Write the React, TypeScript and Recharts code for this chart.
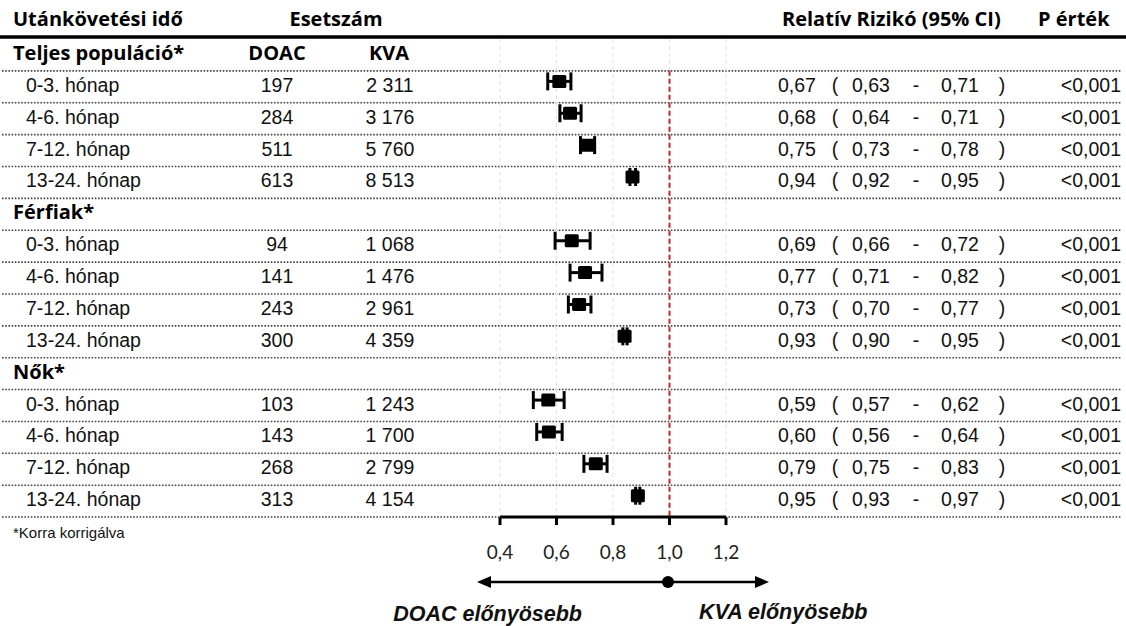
import { ComposedChart, Scatter, ErrorBar, XAxis, YAxis, CartesianGrid, ReferenceLine } from 'recharts';

const groups = ['Teljes populáció*', 'Férfiak*', 'Nők*'];
const periods = ['0-3. hónap', '4-6. hónap', '7-12. hónap', '13-24. hónap'];

const doacCases = [197, 284, 511, 613, 94, 141, 243, 300, 103, 143, 268, 313];
const kvaCases = [2311, 3176, 5760, 8513, 1068, 1476, 2961, 4359, 1243, 1700, 2799, 4154];

const rr = [0.67, 0.68, 0.75, 0.94, 0.69, 0.77, 0.73, 0.93, 0.59, 0.6, 0.79, 0.95];
const ciLow = [0.63, 0.64, 0.73, 0.92, 0.66, 0.71, 0.7, 0.9, 0.57, 0.56, 0.75, 0.93];
const ciHigh = [0.71, 0.71, 0.78, 0.95, 0.72, 0.82, 0.77, 0.95, 0.62, 0.64, 0.83, 0.97];
const pValues = ['<0,001', '<0,001', '<0,001', '<0,001', '<0,001', '<0,001', '<0,001', '<0,001', '<0,001', '<0,001', '<0,001', '<0,001'];

// markers as they are drawn in the source figure (a bit left of the printed RR)
const plotRR = [0.61, 0.648, 0.71, 0.869, 0.654, 0.701, 0.68, 0.841, 0.571, 0.573, 0.739, 0.888];
const plotLow = [0.569, 0.612, 0.685, 0.86, 0.595, 0.648, 0.642, 0.835, 0.518, 0.53, 0.697, 0.88];
const plotHigh = [0.651, 0.687, 0.735, 0.88, 0.719, 0.761, 0.722, 0.85, 0.627, 0.62, 0.779, 0.895];

const xTicks = [0.4, 0.6, 0.8, 1.0, 1.2];

const W = 1126;
const H = 626;
const TOP = 39;
const ROW_H = 31.87;
const ROWS = 15;
const PLOT_LEFT = 500;
const PLOT_RIGHT = 726;

const BODY_FONT = '"Liberation Sans", Arial, sans-serif';
const HEAD_FONT = '"Open Sans", Lato, sans-serif';

const dec = (v: number, d = 2) => v.toFixed(d).replace('.', ',');
const thousands = (v: number) => String(v).replace(/\B(?=(\d{3})+(?!\d))/g, ' ');

const points = plotRR.map((x, k) => {
  const g = Math.floor(k / 4);
  const row = g * 5 + 1 + (k % 4);
  return { x, y: row + 0.33, err: [x - plotLow[k], plotHigh[k] - x] };
});

const Square = (props: any) => {
  const { cx, cy } = props;
  if (cx == null || cy == null) return null;
  return <rect x={cx - 7} y={cy - 6.5} width={14} height={13} rx={1.5} fill="#000" />;
};

function Table() {
  const rowMid = (r: number) => TOP + ROW_H * (r + 0.5);
  const base = (r: number) => rowMid(r) + 5;
  const items: any[] = [];

  groups.forEach((name, g) => {
    const r = g * 5;
    items.push(
      <text key={`g${g}`} x={13} y={base(r)} fontFamily={HEAD_FONT} fontWeight={700} fontSize={20}>
        {name}
      </text>
    );
    periods.forEach((p, i) => {
      const k = g * 4 + i;
      const y = base(r + 1 + i);
      items.push(
        <g key={`r${k}`} fontFamily={BODY_FONT} fontSize={19.5} fill="#111">
          <text x={26} y={y}>{p}</text>
          <text x={277} y={y} textAnchor="middle">{doacCases[k]}</text>
          <text x={390} y={y} textAnchor="middle">{thousands(kvaCases[k])}</text>
          <text x={778} y={y}>{dec(rr[k])}</text>
          <text x={835} y={y} textAnchor="middle">(</text>
          <text x={852} y={y}>{dec(ciLow[k])}</text>
          <text x={916} y={y} textAnchor="middle">-</text>
          <text x={941} y={y}>{dec(ciHigh[k])}</text>
          <text x={1002} y={y} textAnchor="middle">)</text>
          <text x={1121} y={y} textAnchor="end">{pValues[k]}</text>
        </g>
      );
    });
  });

  const lines = [];
  for (let r = 1; r <= ROWS; r++) {
    const y = TOP + ROW_H * r;
    lines.push(
      <line key={`l${r}`} x1={2} x2={1122} y1={y} y2={y} stroke="#444" strokeWidth={1.6} strokeDasharray="1.6 1.6" />
    );
  }

  return (
    <svg width={W} height={H} style={{ position: 'absolute', left: 0, top: 0 }}>
      {lines}
      <line x1={0} x2={W} y1={37} y2={37} stroke="#000" strokeWidth={3.5} />
      <g fontFamily={HEAD_FONT} fontWeight={700} fontSize={20} fill="#000">
        <text x={13} y={26}>Utánkövetési idő</text>
        <text x={336} y={26} textAnchor="middle">Esetszám</text>
        <text x={782} y={26}>Relatív Rizikó (95% CI)</text>
        <text x={1038} y={26}>P érték</text>
        <text x={277} y={base(0)} textAnchor="middle">DOAC</text>
        <text x={389} y={base(0)} textAnchor="middle">KVA</text>
      </g>
      {items}
      <text x={13} y={538} fontFamily={BODY_FONT} fontSize={15} fill="#111">*Korra korrigálva</text>

      <line x1={488} x2={758} y1={582} y2={582} stroke="#000" strokeWidth={2.5} />
      <polygon points="477,582 491,576 491,588" fill="#000" />
      <polygon points="769,582 755,576 755,588" fill="#000" />
      <circle cx={668} cy={582} r={6} fill="#000" />

      <g fontFamily={BODY_FONT} fontWeight={700} fontStyle="italic" fontSize={21.5} fill="#111">
        <text x={582} y={621} textAnchor="end">DOAC előnyösebb</text>
        <text x={699} y={619}>KVA előnyösebb</text>
      </g>
    </svg>
  );
}

export default function App() {
  return (
    <div style={{ position: 'absolute', left: 0, top: 0, width: W, height: H, background: '#fff' }}>
      <Table />
      <div style={{ position: 'absolute', left: 0, top: 0 }}>
        <ComposedChart
          width={W}
          height={H}
          data={points}
          margin={{ top: TOP, left: PLOT_LEFT, right: W - PLOT_RIGHT, bottom: H - (TOP + ROW_H * ROWS) - 30 }}
        >
          <CartesianGrid horizontal={false} stroke="#e4e4e4" strokeDasharray="4 3" />
          <XAxis
            dataKey="x"
            type="number"
            domain={[0.4, 1.2]}
            ticks={xTicks}
            height={30}
            tickFormatter={(v: number) => dec(v, 1)}
            axisLine={{ stroke: '#000', strokeWidth: 3 }}
            tickLine={{ stroke: '#000', strokeWidth: 3 }}
            tickSize={8}
            tickMargin={20}
            tick={{ fill: '#222', fontSize: 19, fontFamily: 'Lato, sans-serif' }}
            allowDataOverflow
          />
          <YAxis dataKey="y" type="number" domain={[0, ROWS]} reversed hide width={0} allowDataOverflow />
          <ReferenceLine
            segment={[{ x: 1, y: 1 }, { x: 1, y: ROWS }]}
            stroke="#c8232c"
            strokeWidth={2}
            strokeDasharray="5 3"
          />
          <Scatter dataKey="x" shape={Square} isAnimationActive={false}>
            <ErrorBar dataKey="err" direction="x" width={9} strokeWidth={3} stroke="#000" />
          </Scatter>
        </ComposedChart>
      </div>
    </div>
  );
}
